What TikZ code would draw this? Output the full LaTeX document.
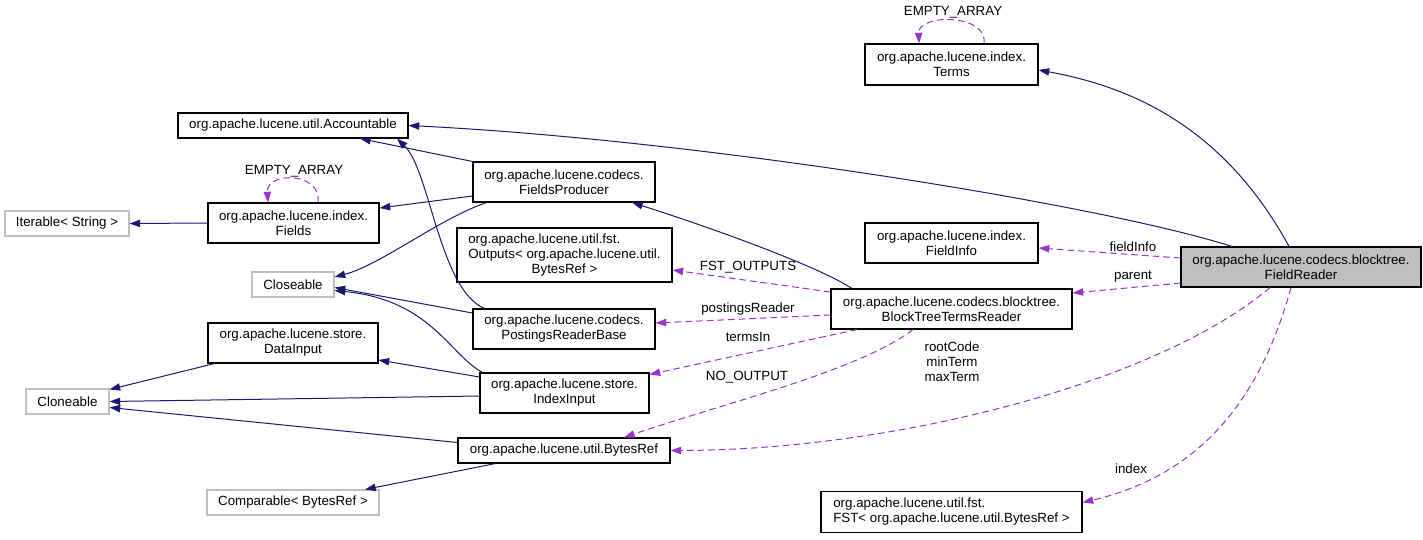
\documentclass[tikz,border=0pt]{standalone}
\usepackage{fontspec}
\setmainfont{Liberation Sans}
\definecolor{edgenavy}{HTML}{191970}
\definecolor{usepurple}{HTML}{9A32CD}
\definecolor{extgray}{HTML}{BFBFBF}
\definecolor{focusfill}{HTML}{BFBFBF}
\usetikzlibrary{arrows.meta,calc}

\tikzset{
  cls/.style={draw=black,line width=0.8pt,inner sep=0pt,align=center,font=\fontsize{10}{11.25}\selectfont},
  extcls/.style={cls,draw=extgray},
  inh/.style={draw=edgenavy,line width=0.75pt,-{Triangle[length=8pt,width=5.5pt]}},
  uses/.style={draw=usepurple,line width=0.75pt,dash pattern=on 5pt off 3pt,-{Triangle[length=8pt,width=5.5pt]}},
  elabel/.style={inner sep=0pt,align=center,font=\fontsize{10}{11.25}\selectfont}
}

\begin{document}
\begin{tikzpicture}[x=0.75pt,y=-0.75pt]
\useasboundingbox (0,0) rectangle (1423,539);

\node[cls,minimum width=129.75pt,minimum height=30.75pt] (terms) at (951.5,64.5) {org.apache.lucene.index.\\Terms};
\node[cls,minimum width=172.5pt,minimum height=18.75pt] (acc) at (293,125.5) {org.apache.lucene.util.Accountable};
\node[cls,minimum width=128.25pt,minimum height=30pt] (fields) at (293.5,223) {org.apache.lucene.index.\\Fields};
\node[extcls,minimum width=93pt,minimum height=18.75pt] (iter) at (67,223.5) {Iterable< String >};
\node[cls,minimum width=136.5pt,minimum height=30pt] (fp) at (564,182) {org.apache.lucene.codecs.\\FieldsProducer};
\node[cls,minimum width=129.75pt,minimum height=30pt] (finfo) at (951.5,243) {org.apache.lucene.index.\\FieldInfo};
\node[cls,fill=focusfill,minimum width=180pt,minimum height=30pt] (fr) at (1301,267) {org.apache.lucene.codecs.blocktree.\\FieldReader};
\node[cls,minimum width=161.25pt,minimum height=40.5pt] (outputs) at (564.5,255) {\begin{tabular}{@{}l@{}}org.apache.lucene.util.fst.\\Outputs< org.apache.lucene.util.\\\multicolumn{1}{@{}c@{}}{BytesRef >}\end{tabular}};
\node[extcls,minimum width=61.5pt,minimum height=18.75pt] (close) at (293,284.5) {Closeable};
\node[cls,minimum width=180.75pt,minimum height=30pt] (bttr) at (951.5,309) {org.apache.lucene.codecs.blocktree.\\BlockTreeTermsReader};
\node[cls,minimum width=136.5pt,minimum height=30pt] (prb) at (564,329) {org.apache.lucene.codecs.\\PostingsReaderBase};
\node[cls,minimum width=127.5pt,minimum height=30pt] (din) at (293,343) {org.apache.lucene.store.\\DataInput};
\node[cls,minimum width=126.75pt,minimum height=30pt] (iin) at (564.5,393) {org.apache.lucene.store.\\IndexInput};
\node[extcls,minimum width=62.25pt,minimum height=18.75pt] (clone) at (67.5,401.5) {Cloneable};
\node[cls,minimum width=159pt,minimum height=18.75pt] (bref) at (564,450.5) {org.apache.lucene.util.BytesRef};
\node[extcls,minimum width=129pt,minimum height=18.75pt] (comp) at (293,502.5) {Comparable< BytesRef >};
\node[cls,align=left,minimum width=195.75pt,minimum height=30.75pt] (fst) at (951.5,512) {org.apache.lucene.util.fst.\\FST< org.apache.lucene.util.BytesRef >};

\draw[inh] ($(fr.north)+(-12,0)$) .. controls +(-69,-127) and +(82,15) .. ($(terms.east)+(0,5.5)$);
\draw[inh] ($(fr.north)+(-69,0)$) .. controls +(-132,-42) and +(292,14.5) .. (acc.east);
\draw[inh] (fp.north west) -- ($(acc.south)+(67,0)$);
\draw[inh] ($(fp.west)+(0,14)$) -- ($(fields.east)+(0,-15)$);
\draw[inh] ($(fp.south west)+(14,0)$) .. controls +(-47,16) and +(46,-12) .. ($(close.east)+(0,-7.5)$);
\draw[inh] (fields.west) -- (iter.east);
\draw[inh] ($(bttr.north)+(-99.5,0)$) .. controls +(-32,-21) and +(88,28) .. ($(fp.south)+(68,0)$);
\draw[inh] ($(prb.north west)+(12,0)$) .. controls +(-45,-19) and +(33,32) .. ($(acc.south)+(104,0)$);
\draw[inh] ($(prb.west)+(0,-16)$) -- ($(close.east)+(0,3)$);
\draw[inh] ($(iin.north west)+(3,0)$) .. controls +(-33,-18) and +(96,9.5) .. ($(close.east)+(0,6)$);
\draw[inh] ($(iin.west)+(0,-16)$) -- ($(din.east)+(0,17)$);
\draw[inh] ($(iin.west)+(0,3)$) -- (clone.east);
\draw[inh] ($(din.south west)+(7,0)$) -- ($(clone.east)+(0,-12)$);
\draw[inh] ($(bref.west)+(0,-8)$) -- ($(clone.east)+(0,6)$);
\draw[inh] ($(bref.south west)+(38,0)$) -- ($(comp.north)+(72,0)$);

\draw[uses] ($(terms.north)+(32.5,0)$) .. controls +(4,-30) and +(-1,-30) .. ($(terms.north)+(-32.5,0)$);
\draw[uses] ($(fields.north)+(24.5,0)$) .. controls +(4,-31) and +(-2,-31) .. ($(fields.north)+(-25.5,0)$);
\draw[uses] ($(fr.west)+(0,-9)$) -- ($(finfo.east)+(0,5)$);
\draw[uses] ($(fr.west)+(0,16)$) -- ($(bttr.east)+(0,-16)$);
\draw[uses] ($(bttr.west)+(0,-17)$) -- ($(outputs.east)+(0,15)$);
\draw[uses] ($(bttr.west)+(0,6)$) -- ($(prb.east)+(0,-6)$);
\draw[uses] ($(bttr.south)+(-94.5,0)$) -- ($(iin.north east)+(0,2)$);
\draw[uses] ($(bttr.south)+(-38.5,0)$) .. controls +(-53,41) and +(96,-33) .. ($(bref.north)+(60,0)$);
\draw[uses] ($(fr.south)+(-31,0)$) .. controls +(-110,93) and +(230,-0.5) .. (bref.east);
\draw[uses] ($(fr.south)+(-10,0)$) .. controls +(-31,113) and +(117,-27.5) .. ($(fst.east)+(0,-9.5)$);

\node[elabel] (ltermsloop) at (953,12) {EMPTY\_ARRAY};
\node[elabel] (lfieldsloop) at (294,171) {EMPTY\_ARRAY};
\node[elabel] (lfieldinfo) at (1133,247) {fieldInfo};
\node[elabel] (lparent) at (1133,277) {parent};
\node[elabel] (lfstout) at (748,267) {FST\_OUTPUTS};
\node[elabel] (lpostings) at (748,309) {postingsReader};
\node[elabel] (ltermsin) at (748,337) {termsIn};
\node[elabel] (lnoout) at (747,377) {NO\_OUTPUT};
\node[elabel] (lroot) at (952,362) {rootCode\\minTerm\\maxTerm};
\node[elabel] (lindex) at (1131,469) {index};
\end{tikzpicture}
\end{document}
